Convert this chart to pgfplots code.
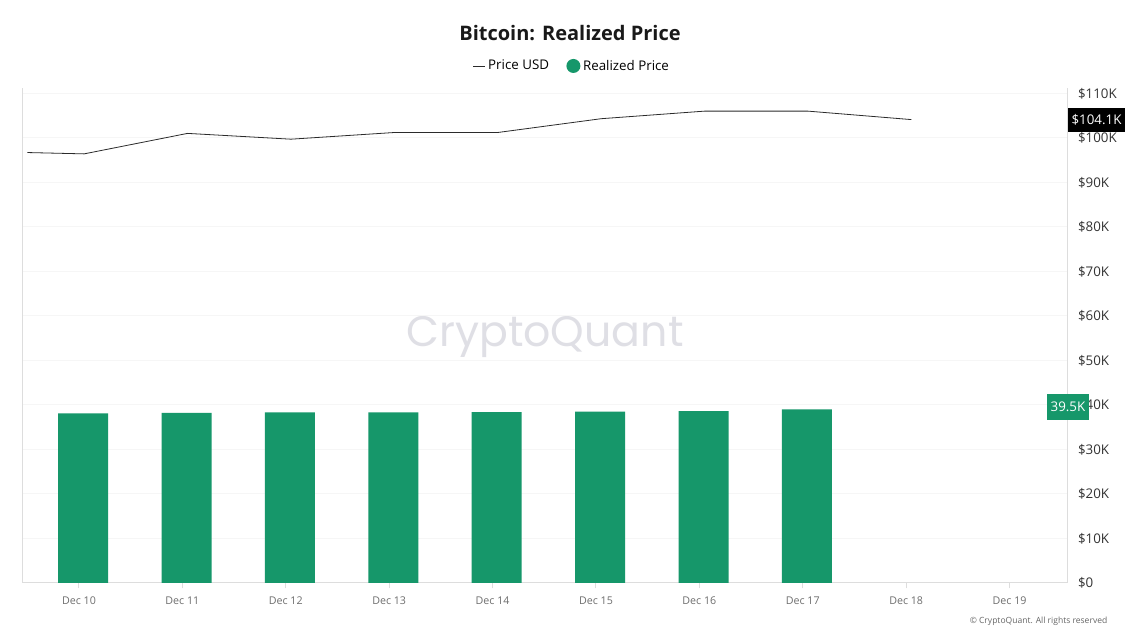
\documentclass[border=0pt]{standalone}
\usepackage{fontspec}
\setmainfont{Open Sans}
\newfontfamily\wmfont{Poppins}
\usepackage{pgfplots}
\pgfplotsset{compat=1.18}
\definecolor{rpgreen}{HTML}{16976A}
\definecolor{axgray}{HTML}{DDDDDD}
\definecolor{gridgray}{HTML}{F6F6F6}
\definecolor{ticktext}{HTML}{333333}
\definecolor{xtext}{HTML}{6E6E6E}
\definecolor{wmgray}{HTML}{DFDFE5}
\definecolor{pricegray}{HTML}{2B2B2B}

\begin{document}
\begin{tikzpicture}
  % page = 1140 x 641 px at 0.75pt per px
  \path[use as bounding box, fill=white] (0,0) rectangle (855pt,480.75pt);
  \node[font=\wmfont\fontsize{32}{36}\selectfont, text=wmgray] at (408.75pt,228pt) {CryptoQuant};
  \node[font=\fontsize{15}{18}\selectfont\bfseries, text=black!90] at (427.5pt,456pt) {Bitcoin: Realized Price};

  \begin{axis}[
      at={(16.5pt,43.5pt)}, anchor=south west,
      scale only axis, width=784.5pt, height=371.25pt,
      xmin=-0.551, xmax=9.565, ymin=0, ymax=111.2,
      axis x line=bottom, axis y line=right,
      axis line style={-, axgray, line width=0.75pt},
      xtick={0,...,9},
      xticklabels={Dec 10,Dec 11,Dec 12,Dec 13,Dec 14,Dec 15,Dec 16,Dec 17,Dec 18,Dec 19},
      ytick={0,10,...,110},
      yticklabels={\$0,\$10K,\$20K,\$30K,\$40K,\$50K,\$60K,\$70K,\$80K,\$90K,\$100K,\$110K},
      ymajorgrids, major grid style={gridgray, line width=0.75pt},
      tick align=outside, major tick length=4pt,
      xtick style={axgray, line width=0.75pt},
      ytick style={draw=none},
      xticklabel style={font=\fontsize{8}{10}\selectfont, text=xtext, yshift=-3pt},
      yticklabel style={font=\fontsize{10}{12}\selectfont, text=ticktext, xshift=0pt},
      legend style={at={(0.526,1.0445)}, anchor=center, draw=none, fill=none,
        legend columns=-1, font=\fontsize{10}{12}\selectfont,
        /tikz/every even column/.append style={column sep=11pt}},
      clip=false,
    ]
    \draw[axgray, line width=0.75pt] (rel axis cs:0,0) -- (rel axis cs:0,1);

    \addplot[pricegray, line width=0.6pt, mark=none,
      legend image code/.code={\draw[pricegray, line width=0.6pt] (0pt,0pt) -- (9pt,0pt);}]
      coordinates {
        (-0.50,96.7) (0.05,96.4) (1.05,101.0) (2.05,99.7) (3.05,101.2)
        (4.05,101.2) (5.05,104.3) (6.05,106.0) (7.05,106.0) (8.05,104.1)
      };
    \addlegendentry{Price USD}

    \addplot[ybar, bar width=37.5pt, fill=rpgreen, draw=none,
      legend image code/.code={\fill[rpgreen] (4pt,0pt) circle (5.25pt);}]
      coordinates {
        (0.04,38.1) (1.04,38.2) (2.04,38.3) (3.04,38.3)
        (4.04,38.4) (5.04,38.5) (6.04,38.6) (7.04,39.0)
      };
    \addlegendentry{Realized Price}

    \coordinate (pricetag) at (axis cs:9.565,104.1);
    \coordinate (rptag) at (axis cs:9.565,39.5);
  \end{axis}

  \node[anchor=west, fill=black, text=white, font=\fontsize{10}{12}\selectfont,
    inner xsep=2.5pt, inner ysep=0pt, minimum height=18pt] at (pricetag) {\$104.1K};
  \node[anchor=center, fill=rpgreen, text=white, font=\fontsize{10}{12}\selectfont,
    inner xsep=2.5pt, inner ysep=0pt, minimum height=19.5pt] at (rptag) {39.5K};
  \node[anchor=east, font=\fontsize{6.4}{8}\selectfont, text=black!60] at (834pt,15pt)
    {© CryptoQuant. All rights reserved};
\end{tikzpicture}
\end{document}
